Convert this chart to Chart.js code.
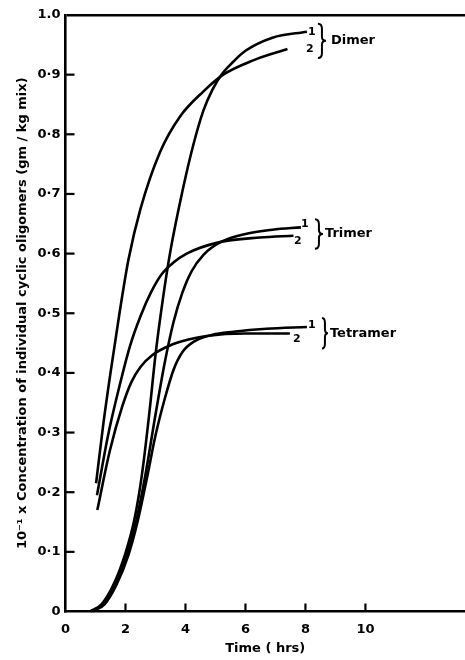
<!DOCTYPE html>
<html>
<head>
<meta charset="utf-8">
<script src="https://cdn.jsdelivr.net/npm/chart.js@4/dist/chart.umd.min.js"></script>
<style>
  html, body { margin: 0; padding: 0; background: #fff; }
  #wrap { width: 465px; height: 660px; }
</style>
</head>
<body>
<div id="wrap"><canvas id="c" width="465" height="660"></canvas></div>
<script>
// Concentration of individual cyclic oligomers vs time, two runs per oligomer.
const xTickValues = [0, 2, 4, 6, 8, 10];
const yTickLabels = ['0', '0·1', '0·2', '0·3', '0·4', '0·5', '0·6', '0·7', '0·8', '0·9', '1.0'];

// Dimer
const dimer1Time = [0.82, 1.2, 1.6, 2.0, 2.3, 2.55, 2.8, 3.0, 3.25, 3.5, 3.9, 4.25, 4.6, 4.9, 5.2, 5.6, 6.0, 6.9, 8.05];
const dimer1Conc = [0, 0.012, 0.045, 0.098, 0.155, 0.23, 0.335, 0.43, 0.525, 0.605, 0.705, 0.78, 0.84, 0.875, 0.90, 0.922, 0.94, 0.962, 0.972];
const dimer2Time = [1.02, 1.25, 1.5, 1.8, 2.1, 2.5, 3.15, 3.82, 4.6, 5.26, 6.26, 7.4];
const dimer2Conc = [0.215, 0.31, 0.40, 0.50, 0.59, 0.675, 0.77, 0.83, 0.872, 0.90, 0.924, 0.943];

// Trimer
const trimer1Time = [0.85, 1.25, 1.65, 2.05, 2.35, 2.65, 3.0, 3.3, 3.6, 3.9, 4.2, 4.6, 5.2, 6.0, 6.9, 7.85];
const trimer1Conc = [0, 0.012, 0.045, 0.095, 0.15, 0.225, 0.33, 0.415, 0.485, 0.535, 0.57, 0.598, 0.62, 0.633, 0.64, 0.644];
const trimer2Time = [1.05, 1.43, 1.82, 2.15, 2.5, 2.85, 3.2, 3.6, 4.04, 5.04, 6.48, 7.6];
const trimer2Conc = [0.195, 0.298, 0.382, 0.445, 0.495, 0.535, 0.565, 0.585, 0.60, 0.618, 0.627, 0.63];

// Tetramer
const tetramer1Time = [0.9, 1.3, 1.7, 2.1, 2.4, 2.7, 3.0, 3.3, 3.6, 3.9, 4.3, 4.9, 5.6, 6.7, 8.05];
const tetramer1Conc = [0, 0.012, 0.045, 0.095, 0.15, 0.22, 0.295, 0.355, 0.405, 0.435, 0.453, 0.464, 0.469, 0.474, 0.477];
const tetramer2Time = [1.06, 1.48, 1.9, 2.2, 2.5, 2.9, 3.48, 4.1, 4.7, 6.0, 7.48];
const tetramer2Conc = [0.17, 0.27, 0.345, 0.385, 0.41, 0.43, 0.446, 0.456, 0.462, 0.466, 0.466];

const groupNames = ['Dimer', 'Trimer', 'Tetramer'];
const runNames = ['1', '2'];

const FONT = '"DejaVu Sans", sans-serif';

function pts(xs, ys) { return xs.map((x, i) => ({ x, y: ys[i] })); }

function series(label, xs, ys) {
  return {
    label,
    data: pts(xs, ys),
    borderColor: '#000',
    borderWidth: 2.6,
    pointRadius: 0,
    fill: false,
    cubicInterpolationMode: 'monotone',
    clip: false
  };
}

const datasets = [
  series('Dimer 1', dimer1Time, dimer1Conc),
  series('Dimer 2', dimer2Time, dimer2Conc),
  series('Trimer 1', trimer1Time, trimer1Conc),
  series('Trimer 2', trimer2Time, trimer2Conc),
  series('Tetramer 1', tetramer1Time, tetramer1Conc),
  series('Tetramer 2', tetramer2Time, tetramer2Conc)
];

// Label placement beside the ends of each pair of curves (pixel offsets from the curve end points).
const labelLayout = [
  { one: [5, 0], two: [3, 0], twoFrom: 1, brace: [11, 19, -8, 9], name: 24 },
  { one: [4, -3], two: [-3, 5], twoFrom: 1, brace: [14, 22, -8, 13], name: 24 },
  { one: [5, -2], two: [7, 6], twoFrom: 2, brace: [15, 21, -9, 15], name: 23 }
];

function drawBrace(ctx, x0, x1, y1, y2) {
  const ym = (y1 + y2) / 2;
  const xm = (x0 + x1) / 2;
  ctx.beginPath();
  ctx.moveTo(x0, y1);
  ctx.quadraticCurveTo(xm, y1, xm, y1 + 5);
  ctx.lineTo(xm, ym - 4);
  ctx.quadraticCurveTo(xm, ym, x1, ym);
  ctx.quadraticCurveTo(xm, ym, xm, ym + 4);
  ctx.lineTo(xm, y2 - 5);
  ctx.quadraticCurveTo(xm, y2, x0, y2);
  ctx.stroke();
}

const annotate = {
  id: 'annotate',
  afterDraw(chart) {
    const ctx = chart.ctx;
    const xs = chart.scales.x, ys = chart.scales.y;
    const area = chart.chartArea;
    ctx.save();
    ctx.strokeStyle = '#000';
    ctx.fillStyle = '#000';
    // inward tick marks
    ctx.lineWidth = 2.2;
    for (let i = 1; i < yTickLabels.length - 1; i++) {
      const py = ys.getPixelForValue(i / 10);
      ctx.beginPath();
      ctx.moveTo(area.left, py);
      ctx.lineTo(area.left + 9, py);
      ctx.stroke();
    }
    xTickValues.forEach(v => {
      if (v === 0) return;
      const px = xs.getPixelForValue(v);
      ctx.beginPath();
      ctx.moveTo(px, area.bottom);
      ctx.lineTo(px, area.bottom - 8);
      ctx.stroke();
    });
    // run numbers, braces and oligomer names
    groupNames.forEach((name, g) => {
      const d1 = datasets[g * 2].data, d2 = datasets[g * 2 + 1].data;
      const e1 = d1[d1.length - 1], e2 = d2[d2.length - 1];
      const e1x = xs.getPixelForValue(e1.x), e1y = ys.getPixelForValue(e1.y);
      const e2x = xs.getPixelForValue(e2.x), e2y = ys.getPixelForValue(e2.y);
      const L = labelLayout[g];
      ctx.font = 'bold 11px ' + FONT;
      ctx.textAlign = 'center';
      ctx.textBaseline = 'middle';
      ctx.fillText(runNames[0], e1x + L.one[0], e1y + L.one[1]);
      const twoX = (L.twoFrom === 2 ? e2x : e1x) + L.two[0];
      ctx.fillText(runNames[1], twoX, e2y + L.two[1]);
      ctx.lineWidth = 2;
      const by1 = e1y + L.brace[2], by2 = e2y + L.brace[3];
      drawBrace(ctx, e1x + L.brace[0], e1x + L.brace[1], by1, by2);
      ctx.font = 'bold 13px ' + FONT;
      ctx.textAlign = 'left';
      ctx.fillText(name, e1x + L.name, (by1 + by2) / 2);
    });
    ctx.restore();
  }
};

new Chart(document.getElementById('c'), {
  type: 'line',
  data: { datasets },
  options: {
    responsive: false,
    animation: false,
    devicePixelRatio: 1,
    layout: { padding: { top: 15, right: 0, left: 0, bottom: 0 } },
    plugins: { legend: { display: false }, tooltip: { enabled: false } },
    scales: {
      x: {
        type: 'linear',
        min: 0,
        max: 13.32,
        afterBuildTicks: s => { s.ticks = xTickValues.map(v => ({ value: v })); },
        grid: { display: false, drawTicks: false },
        border: { display: true, color: '#000', width: 2.6 },
        ticks: {
          color: '#000',
          font: { family: FONT, size: 13, weight: 'bold' },
          padding: 10,
          maxRotation: 0,
          autoSkip: false,
          callback: v => String(v)
        },
        title: {
          display: true,
          text: 'Time ( hrs)',
          color: '#000',
          font: { family: FONT, size: 13, weight: 'bold' },
          padding: { top: 0, bottom: 4 }
        },
        afterFit: s => { s.height = 48.5; }
      },
      y: {
        min: 0,
        max: 1,
        afterBuildTicks: s => { s.ticks = yTickLabels.map((_, i) => ({ value: i / 10 })); },
        grid: {
          drawTicks: false,
          color: c => (c.tick && c.tick.value === 1 ? '#000' : 'rgba(0,0,0,0)'),
          lineWidth: 2.6
        },
        border: { display: true, color: '#000', width: 2.6 },
        ticks: {
          color: '#000',
          font: { family: FONT, size: 13, weight: 'bold' },
          padding: 5,
          autoSkip: false,
          callback: (v, i) => yTickLabels[i]
        },
        title: {
          display: true,
          text: '10⁻¹ x Concentration of individual cyclic oligomers (gm / kg mix)',
          color: '#000',
          font: { family: FONT, size: 13, weight: 'bold' },
          padding: { top: 15, bottom: 0 }
        },
        afterFit: s => { s.width = 65.5; }
      }
    }
  },
  plugins: [annotate]
});
</script>
</body>
</html>
